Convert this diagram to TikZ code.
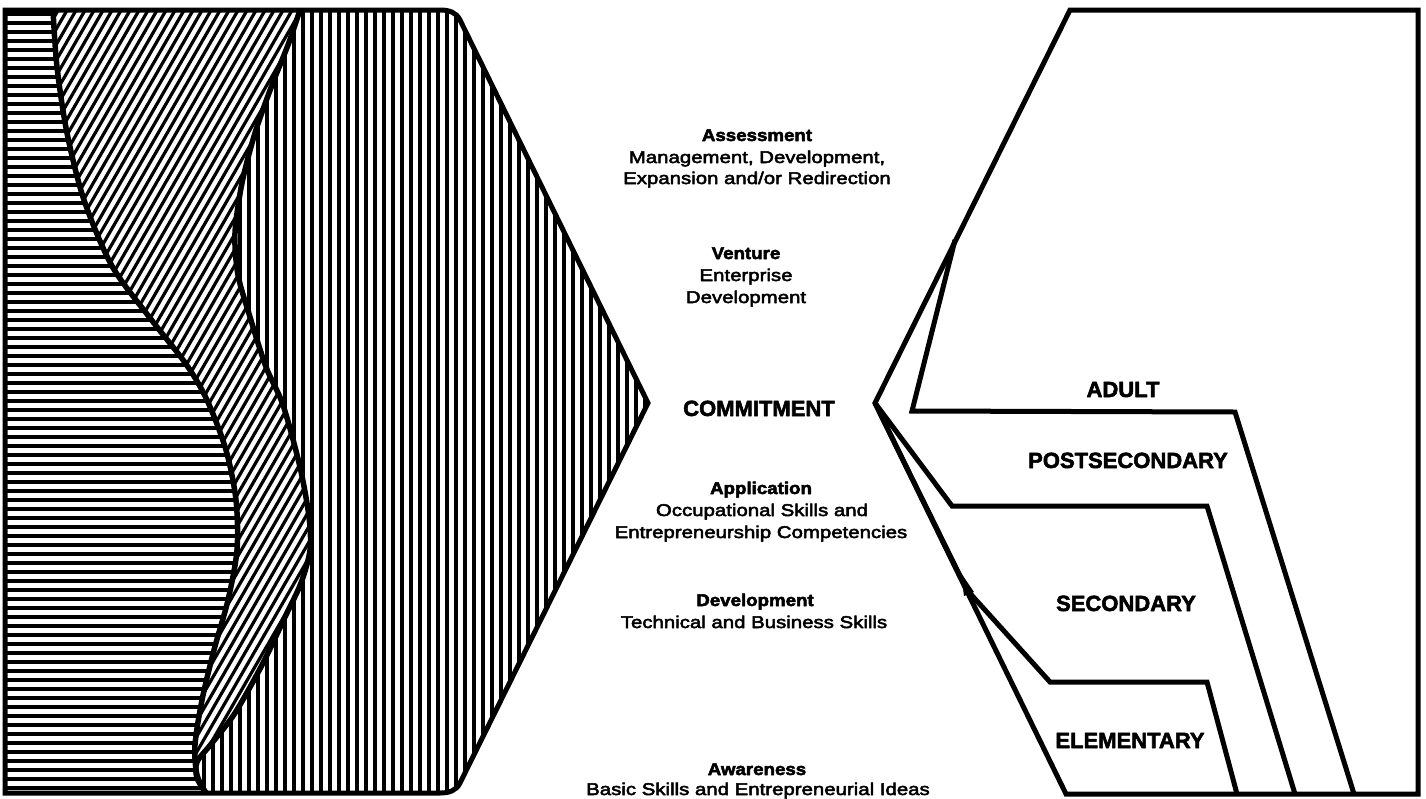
\documentclass[tikz,border=0pt]{standalone}
\usepackage{fontspec}
\newfontfamily\headfont{Liberation Sans}[FakeStretch=1.1,FakeBold=3]
\newfontfamily\subfont{Liberation Sans}[FakeStretch=1.2,FakeBold=3]
\newfontfamily\bigfont{Liberation Sans}[FakeStretch=1.0,FakeBold=2.5]
\begin{document}
\begin{tikzpicture}[x=1pt,y=-1pt,line join=round,
  hatch/.style={line width=3.2pt},
  border/.style={line width=5pt,line join=miter},
  curveline/.style={line width=5.5pt},
  lblhead/.style={font=\headfont\bfseries\fontsize{17}{20}\selectfont,anchor=base,inner sep=0pt},
  lblsub/.style={font=\subfont\fontsize{17}{20}\selectfont,anchor=base,inner sep=0pt},
  lblbig/.style={font=\bigfont\bfseries\fontsize{22}{26}\selectfont,anchor=base,inner sep=0pt}]
\useasboundingbox (0,0) rectangle (1426,798);
\fill[white] (0,0) rectangle (1426,798);

% ---------- left hexagonal half with hatched bands ----------
\begin{scope}
  \clip (5,10) -- (440,10) to[out=0,in=116] (460,20) -- (648,403) -- (460,783) to[out=244,in=0] (440,793) -- (5,793) -- cycle;
  \foreach \x in {6,15,...,650} \draw[hatch] (\x,0) -- (\x,800);
\end{scope}
\begin{scope}
  \clip (5,10) -- (300,10) -- plot[smooth] coordinates {(300,10) (288,45) (272,85) (255,133) (242,183) (235,233) (238,275) (250,317) (266,367) (283,405) (300,467) (309,517) (310,550) (301,583) (285,617) (262,665) (235,713) (212,743) (197,762) (197,778) (206,793)} -- (5,793) -- cycle;
  \fill[white] (0,0) rectangle (700,800);
  \foreach \x in {-470,-461,...,330} \draw[hatch] (\x,800) -- ++(462,-800);
\end{scope}
\begin{scope}
  \clip (5,10) -- plot[smooth] coordinates {(53,10) (57,67) (67,133) (84,200) (112,266) (150,318) (186,364) (207,400) (226,450) (236,500) (237,550) (228,600) (214,650) (202,700) (195,745) (197,775) (206,793)} -- (5,793) -- cycle;
  \fill[white] (0,0) rectangle (700,800);
  \foreach \y in {14,23,...,800} \draw[hatch] (0,\y) -- (700,\y);
\end{scope}
\draw[curveline] plot[smooth] coordinates {(53,10) (57,67) (67,133) (84,200) (112,266) (150,318) (186,364) (207,400) (226,450) (236,500) (237,550) (228,600) (214,650) (202,700) (195,745) (197,775) (206,793)};
\draw[curveline] plot[smooth] coordinates {(300,10) (288,45) (272,85) (255,133) (242,183) (235,233) (238,275) (250,317) (266,367) (283,405) (300,467) (309,517) (310,550) (301,583) (285,617) (262,665) (235,713) (212,743) (197,762) (197,778) (206,793)};
\draw[border] (5,10) -- (440,10) to[out=0,in=116] (460,20) -- (648,403) -- (460,783) to[out=244,in=0] (440,793) -- (5,793) -- cycle;

% ---------- right half: school levels ----------
\draw[border] (1070,10) -- (1418,10) -- (1418,794) -- (1066,794) -- (875,403) -- cycle;
\draw[border] (955,240) -- (912,411) -- (1235,412) -- (1354,794);
\draw[border] (875,403) -- (952,506) -- (1207,506) -- (1295,794);
\draw[border] (875,403) -- (967,590) -- (1050,682) -- (1207,682) -- (1237,794);
\fill (961,573) -- (974,592) -- (964,596) -- cycle;

% ---------- centre texts ----------
\node[lblhead] (assess)  at (757,141) {Assessment};
\node[lblsub]  (assess1) at (757,163) {Management, Development,};
\node[lblsub]  (assess2) at (757,184) {Expansion and/or Redirection};
\node[lblhead] (venture)  at (746,259) {Venture};
\node[lblsub]  (venture1) at (746,281) {Enterprise};
\node[lblsub]  (venture2) at (746,303) {Development};
\node[lblbig]  (commit) at (759,416) {COMMITMENT};
\node[lblhead] (appl)  at (761,494) {Application};
\node[lblsub]  (appl1) at (762,516) {Occupational Skills and};
\node[lblsub]  (appl2) at (761,538) {Entrepreneurship Competencies};
\node[lblhead] (devel)  at (755,606) {Development};
\node[lblsub]  (devel1) at (754,628) {Technical and Business Skills};
\node[lblhead] (aware)  at (757,775) {Awareness};
\node[lblsub]  (aware1) at (758,795) {Basic Skills and Entrepreneurial Ideas};

% ---------- level labels ----------
\node[lblbig] (adult) at (1123,397) {ADULT};
\node[lblbig] (post)  at (1128,468) {POSTSECONDARY};
\node[lblbig] (sec)   at (1126,611) {SECONDARY};
\node[lblbig] (elem)  at (1130,748) {ELEMENTARY};
\end{tikzpicture}
\end{document}
